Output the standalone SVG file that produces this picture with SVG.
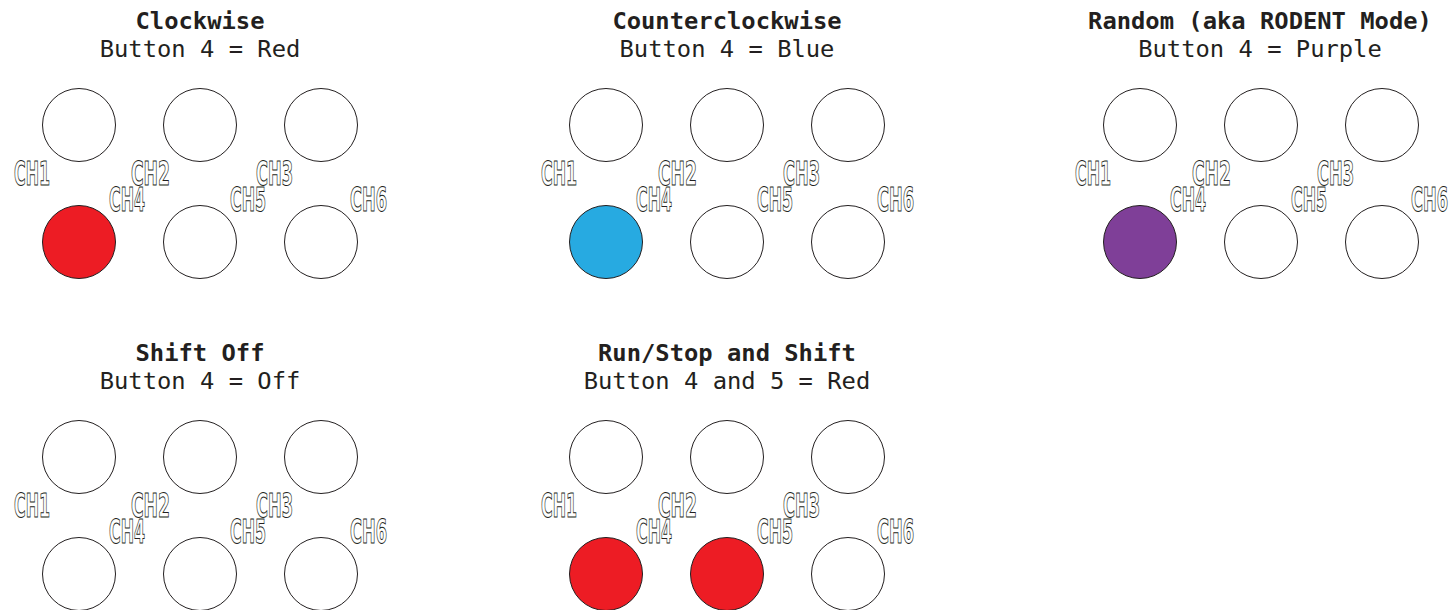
<svg xmlns="http://www.w3.org/2000/svg" xmlns:xlink="http://www.w3.org/1999/xlink" width="1450" height="610" viewBox="0 0 1450 610">
<style>
.t{font-family:"DejaVu Sans Mono","Liberation Mono",monospace;font-weight:bold;font-size:23.8px;fill:#231F20;text-anchor:middle}
.s{font-family:"DejaVu Sans Mono","Liberation Mono",monospace;font-size:23.8px;fill:#231F20;text-anchor:middle}
.b{fill:#FFFFFF;stroke:#231F20;stroke-width:1}
.red{fill:#ED1C24}
.blue{fill:#27AAE1}
.purple{fill:#7F3F98}
.ch{font-family:"DejaVu Sans Condensed","DejaVu Sans",sans-serif;font-weight:bold;font-size:33px;fill:#FFFFFF;stroke:#231F20;stroke-width:1;text-rendering:geometricPrecision}
</style>
<defs>
<g id="labels">
<text class="ch" x="14" y="185" textLength="36" lengthAdjust="spacingAndGlyphs">CH1</text>
<text class="ch" x="131" y="185" textLength="39" lengthAdjust="spacingAndGlyphs">CH2</text>
<text class="ch" x="256" y="185" textLength="37" lengthAdjust="spacingAndGlyphs">CH3</text>
<text class="ch" x="109" y="211" textLength="36" lengthAdjust="spacingAndGlyphs">CH4</text>
<text class="ch" x="230" y="211" textLength="36" lengthAdjust="spacingAndGlyphs">CH5</text>
<text class="ch" x="350" y="211" textLength="37" lengthAdjust="spacingAndGlyphs">CH6</text>
</g>
</defs>
<g id="panel-clockwise">
<text class="t" x="200" y="29">Clockwise</text>
<text class="s" x="200" y="57">Button 4 = Red</text>
<circle class="b" cx="79" cy="125" r="36.5"/>
<circle class="b" cx="200" cy="125" r="36.5"/>
<circle class="b" cx="321" cy="125" r="36.5"/>
<circle class="b red" cx="79" cy="242" r="36.5"/>
<circle class="b" cx="200" cy="242" r="36.5"/>
<circle class="b" cx="321" cy="242" r="36.5"/>
<use xlink:href="#labels" href="#labels"/>
</g>
<g id="panel-counterclockwise" transform="translate(527,0)">
<text class="t" x="200" y="29">Counterclockwise</text>
<text class="s" x="200" y="57">Button 4 = Blue</text>
<circle class="b" cx="79" cy="125" r="36.5"/>
<circle class="b" cx="200" cy="125" r="36.5"/>
<circle class="b" cx="321" cy="125" r="36.5"/>
<circle class="b blue" cx="79" cy="242" r="36.5"/>
<circle class="b" cx="200" cy="242" r="36.5"/>
<circle class="b" cx="321" cy="242" r="36.5"/>
<use xlink:href="#labels" href="#labels"/>
</g>
<g id="panel-random" transform="translate(1061,0)">
<text class="t" x="199" y="29">Random (aka RODENT Mode)</text>
<text class="s" x="199" y="57">Button 4 = Purple</text>
<circle class="b" cx="79" cy="125" r="36.5"/>
<circle class="b" cx="200" cy="125" r="36.5"/>
<circle class="b" cx="321" cy="125" r="36.5"/>
<circle class="b purple" cx="79" cy="242" r="36.5"/>
<circle class="b" cx="200" cy="242" r="36.5"/>
<circle class="b" cx="321" cy="242" r="36.5"/>
<use xlink:href="#labels" href="#labels"/>
</g>
<g id="panel-shift-off" transform="translate(0,332)">
<text class="t" x="200" y="29">Shift Off</text>
<text class="s" x="200" y="57">Button 4 = Off</text>
<circle class="b" cx="79" cy="125" r="36.5"/>
<circle class="b" cx="200" cy="125" r="36.5"/>
<circle class="b" cx="321" cy="125" r="36.5"/>
<circle class="b" cx="79" cy="242" r="36.5"/>
<circle class="b" cx="200" cy="242" r="36.5"/>
<circle class="b" cx="321" cy="242" r="36.5"/>
<use xlink:href="#labels" href="#labels"/>
</g>
<g id="panel-runstop-shift" transform="translate(527,332)">
<text class="t" x="200" y="29">Run/Stop and Shift</text>
<text class="s" x="200" y="57">Button 4 and 5 = Red</text>
<circle class="b" cx="79" cy="125" r="36.5"/>
<circle class="b" cx="200" cy="125" r="36.5"/>
<circle class="b" cx="321" cy="125" r="36.5"/>
<circle class="b red" cx="79" cy="242" r="36.5"/>
<circle class="b red" cx="200" cy="242" r="36.5"/>
<circle class="b" cx="321" cy="242" r="36.5"/>
<use xlink:href="#labels" href="#labels"/>
</g>
<g id="connectors"/>
</svg>
